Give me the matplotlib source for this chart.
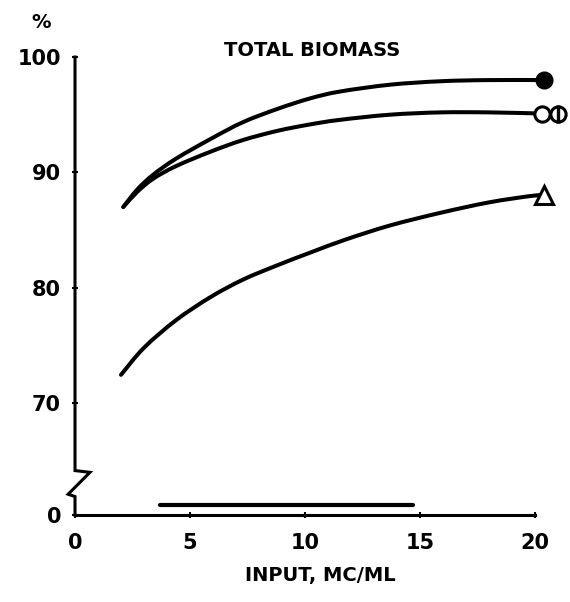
import numpy as np
import matplotlib
matplotlib.use("Agg")
import matplotlib.pyplot as plt
from matplotlib.lines import Line2D
from matplotlib.path import Path
from matplotlib.patches import PathPatch

plt.rcParams['font.family'] = ['DejaVu Sans']
plt.rcParams['font.weight'] = 'bold'

# input (MC/ML) vs. percent of total biomass
x_solid = [2.1, 2.7, 3.4, 4.4, 5.9, 7.3, 8.8, 10.2, 11.5, 13.7, 15.9, 18.0, 20.4]
y_solid = [87.0, 88.5, 89.8, 91.2, 92.9, 94.35, 95.5, 96.4, 97.0, 97.6, 97.9, 98.0, 98.0]

x_open = [2.1, 2.7, 3.4, 4.4, 5.9, 7.3, 8.8, 10.2, 11.5, 13.7, 15.9, 18.0, 20.3]
y_open = [87.0, 88.3, 89.45, 90.55, 91.8, 92.8, 93.6, 94.15, 94.55, 95.0, 95.2, 95.2, 95.1]

x_tri = [2.0, 3.0, 4.4, 5.9, 7.3, 8.8, 10.3, 11.8, 13.7, 15.9, 18.0, 19.8, 20.4]
y_tri = [72.45, 74.8, 77.2, 79.2, 80.7, 81.95, 83.1, 84.2, 85.4, 86.5, 87.4, 87.95, 88.05]

# horizontal range bar near zero
bar_x = [3.7, 14.7]
bar_level = 0.9

x_ticks = [0, 5, 10, 15, 20]
y_ticks = [0, 70, 80, 90, 100]

# where the "0" sits on the broken axis
BREAK_BASE = 60.3


def shift(v):
    # values below the break are drawn relative to BREAK_BASE
    return BREAK_BASE + v if v < 50 else v


def smooth_curve(xs, ys):
    # Catmull-Rom through the points, written as cubic Bezier segments
    p = np.column_stack([xs, ys]).astype(float)
    n = len(p)
    verts = [p[0]]
    codes = [Path.MOVETO]
    for i in range(n - 1):
        p0 = p[i - 1] if i > 0 else p[i]
        p3 = p[i + 2] if i + 2 < n else p[i + 1]
        c1 = p[i] + (p[i + 1] - p0) / 6.0
        c2 = p[i + 1] - (p3 - p[i]) / 6.0
        verts += [c1, c2, p[i + 1]]
        codes += [Path.CURVE4] * 3
    return Path(verts, codes)


fig = plt.figure(figsize=(5.70, 6.02), dpi=100)
ax = fig.add_axes([0.1316, 0.1445, 0.807, 0.7608])

for xs, ys in [(x_solid, y_solid), (x_open, y_open), (x_tri, y_tri)]:
    ax.add_patch(PathPatch(smooth_curve(xs, ys), fill=False, edgecolor='black',
                           lw=2.9, capstyle='round', joinstyle='round', clip_on=False))

# end markers
ax.plot([x_solid[-1]], [y_solid[-1]], 'o', ms=12, color='black', clip_on=False)
ax.plot([x_open[-1]], [y_open[-1]], 'o', ms=11, mfc='white', mec='black', mew=2.2, clip_on=False)
ax.plot([21.0], [y_open[-1]], 'o', ms=11, mfc='white', mec='black', mew=2.2, clip_on=False)
ax.plot([21.0], [y_open[-1]], '|', ms=13, color='black', mew=2.4, clip_on=False)
ax.plot([x_tri[-1]], [y_tri[-1]], '^', ms=13, mfc='white', mec='black', mew=2.2, clip_on=False)

ax.plot(bar_x, [shift(bar_level)] * 2, color='black', lw=3.0, solid_capstyle='round')

ax.set_xlim(0, 20)
ax.set_ylim(BREAK_BASE, 100)

for s in ['top', 'right', 'left']:
    ax.spines[s].set_visible(False)
ax.spines['bottom'].set_linewidth(2.2)

# left axis line with zigzag break
yb = lambda v: (v - BREAK_BASE) / (100 - BREAK_BASE)
xb = lambda v: v / 20.0
brk = Line2D([0, 0, xb(-0.3), xb(0.65), 0, 0],
             [0, yb(61.9), yb(62.1), yb(64.0), yb(64.15), 1],
             transform=ax.transAxes, color='black', lw=2.2, clip_on=False,
             solid_joinstyle='miter')
ax.add_line(brk)

ax.set_xticks(x_ticks)
ax.set_xticklabels([str(t) for t in x_ticks])
ax.set_yticks([shift(t) for t in y_ticks])
ax.set_yticklabels([str(t) for t in y_ticks])
ax.tick_params(axis='both', direction='inout', length=4, width=1.5, labelsize=15)
ax.tick_params(axis='x', pad=11)
ax.tick_params(axis='y', pad=8)

ax.set_xlabel('INPUT, MC/ML', fontsize=14, fontweight='bold')
ax.xaxis.set_label_coords(0.533, -0.112)

ax.text(0.516, 1.015, 'TOTAL BIOMASS', transform=ax.transAxes,
        ha='center', va='center', fontsize=14, fontweight='bold')
fig.text(41 / 570, 1 - 22 / 602, '%', ha='center', va='center',
         fontsize=14, fontweight='bold')

fig.savefig('out.png', dpi=100)
